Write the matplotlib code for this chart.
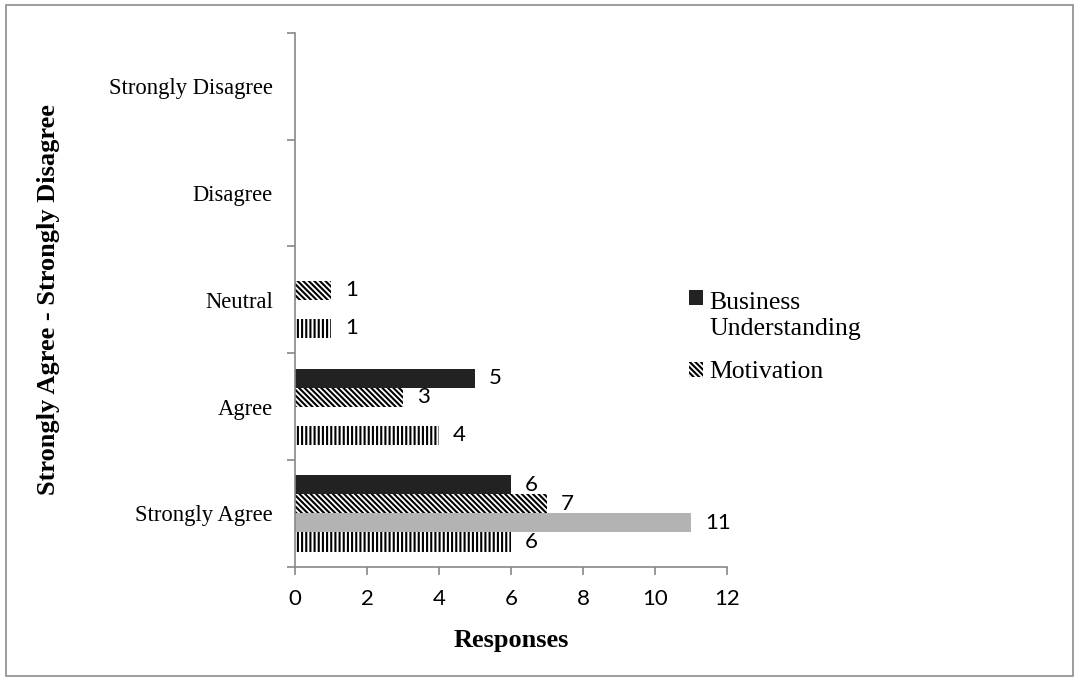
import numpy as np
import matplotlib
matplotlib.use("Agg")
import matplotlib.pyplot as plt
from matplotlib.patches import Rectangle, Patch

plt.rcParams['hatch.linewidth'] = 1.5

categories = ["Strongly Agree", "Agree", "Neutral", "Disagree", "Strongly Disagree"]
business = [6, 5, 0, 0, 0]
motivation = [7, 3, 1, 0, 0]
third = [11, 0, 0, 0, 0]
fourth = [6, 4, 1, 0, 0]
xticks = [0, 2, 4, 6, 8, 10, 12]

serif = "Liberation Serif"
sans = "Lato"
diag = "\\" * 6
vert = "||||"

fig = plt.figure(figsize=(10.77, 6.83), dpi=100)
fig.patches.append(Rectangle((0.006, 0.01), 0.99, 0.982, transform=fig.transFigure,
                             fill=False, edgecolor="#8c8c8c", linewidth=1.2))
ax = fig.add_axes([0.274, 0.170, 0.401, 0.782])

y = np.arange(len(categories))
h = 0.178
series = [
    (business, 1.5, dict(color="#222222")),
    (motivation, 0.5, dict(color="white", hatch=diag, edgecolor="black", linewidth=0)),
    (third, -0.5, dict(color="#b3b3b3")),
    (fourth, -1.5, dict(color="white", hatch=vert, edgecolor="black", linewidth=0)),
]
for vals, off, style in series:
    bars = ax.barh(y + off * h, vals, height=h, **style)
    for b, v in zip(bars, vals):
        if v > 0:
            ax.annotate(str(v), (v, b.get_y() + h / 2), xytext=(10, 0),
                        textcoords="offset points", va="center", ha="left",
                        fontsize=16, family=sans)

ax.set_xlim(0, 12)
ax.set_ylim(-0.5, len(categories) - 0.5)
ax.set_xticks(xticks)
ax.set_xticklabels([str(t) for t in xticks], family=sans, fontsize=16)
ax.set_yticks(np.arange(-0.5, len(categories), 1.0))
ax.set_yticklabels([])
ax.set_yticks(y, minor=True)
ax.set_yticklabels(categories, minor=True, family=serif, fontsize=16.3)
ax.tick_params(axis="y", which="minor", length=0, pad=16)
ax.tick_params(axis="y", which="major", length=6, color="#888888", width=1.2)
ax.tick_params(axis="x", length=6, color="#888888", width=1.2, pad=10)

for s in ["top", "right"]:
    ax.spines[s].set_visible(False)
for s in ["left", "bottom"]:
    ax.spines[s].set_color("#888888")
    ax.spines[s].set_linewidth(1.2)

ax.set_xlabel("Responses", family=serif, fontsize=19, fontweight="bold", labelpad=14)
ax.set_ylabel("Strongly Agree - Strongly Disagree", family=serif, fontsize=19,
              fontweight="bold")
ax.yaxis.set_label_coords(-0.545, 0.5)

handles = [Patch(facecolor="#222222"),
           Patch(facecolor="white", hatch=diag, edgecolor="black", linewidth=0)]
leg = fig.legend(handles, ["Business\nUnderstanding", "Motivation"], loc="upper left",
                 bbox_to_anchor=(0.618, 0.606), frameon=False,
                 prop=dict(family=serif, size=18.5),
                 handlelength=0.55, handleheight=0.55, handletextpad=0.25,
                 labelspacing=0.85)
# put the first marker beside the first line of its two-line label
first = leg.legend_handles[0]
first.set_y(first.get_y() + 13)

fig.savefig("out.png", dpi=100)
